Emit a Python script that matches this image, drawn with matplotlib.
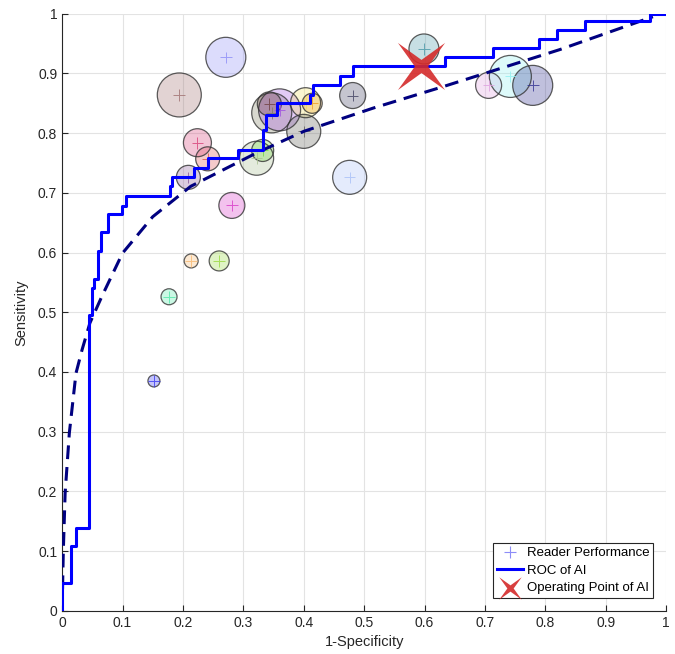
import matplotlib
matplotlib.use("Agg")
import matplotlib.pyplot as plt
from matplotlib.path import Path

plt.rcParams['font.family'] = ['Liberation Sans', 'DejaVu Sans']

# ROC of AI: jump positions (1-specificity) and sensitivity after each jump
roc_fpr = [0.0, 0.0, 0.0144, 0.023, 0.045, 0.049, 0.053, 0.060, 0.0646, 0.0756,
           0.0999, 0.106, 0.178, 0.1815, 0.2185, 0.242, 0.291, 0.332, 0.338,
           0.355, 0.410, 0.416, 0.460, 0.481, 0.634, 0.713, 0.790, 0.820,
           0.865, 0.973, 1.0]
roc_tpr = [0.0, 0.046, 0.108, 0.139, 0.495, 0.540, 0.556, 0.602, 0.634, 0.665,
           0.678, 0.695, 0.711, 0.726, 0.742, 0.758, 0.772, 0.806, 0.831,
           0.850, 0.864, 0.881, 0.895, 0.912, 0.928, 0.943, 0.958, 0.973,
           0.988, 1.0, 1.0]

# fitted (smooth) ROC
fit_fpr = [0.0, 0.002, 0.005, 0.012, 0.023, 0.033, 0.046, 0.066, 0.10, 0.15,
           0.213, 0.322, 0.40, 0.515, 0.631, 0.824, 0.978]
fit_tpr = [0.0, 0.10, 0.197, 0.298, 0.398, 0.437, 0.482, 0.527, 0.599, 0.660,
           0.711, 0.767, 0.803, 0.842, 0.878, 0.940, 0.995]

# readers: operating points and bubble size (radius, px)
reader_fpr = [0.152, 0.177, 0.2136, 0.260, 0.281, 0.209, 0.241, 0.224, 0.194,
              0.271, 0.322, 0.332, 0.347, 0.360, 0.343, 0.403, 0.414, 0.400,
              0.481, 0.476, 0.599, 0.706, 0.742, 0.779]
reader_sens = [0.385, 0.526, 0.586, 0.586, 0.679, 0.726, 0.757, 0.784, 0.864,
               0.927, 0.758, 0.771, 0.834, 0.839, 0.849, 0.851, 0.850, 0.803,
               0.863, 0.726, 0.941, 0.880, 0.895, 0.880]
reader_size = [6, 8, 7, 10, 13, 12, 12, 14, 22, 20, 17, 11, 20, 21, 12, 15, 10,
               17, 13, 17, 15, 13, 21, 20]
reader_colors = ['#3a3af0', '#50e8a8', '#f8b870', '#98d840', '#d838c8', '#8a5a9a',
                 '#e05050', '#d84078', '#a07070', '#8c8cf8', '#a8c090', '#70d840',
                 '#808060', '#a050e0', '#704040', '#f0e060', '#f0a020', '#606058',
                 '#404060', '#a8c0f8', '#4898a8', '#e0a0e0', '#90f0f0', '#303090']

ai_fpr = [0.594]
ai_sens = [0.912]

# thin four-pointed star, tips on the diagonals
star_pts = [(1, 1), (0.28, 0), (1, -1), (0, -0.28), (-1, -1), (-0.28, 0),
            (-1, 1), (0, 0.28), (1, 1)]
star = Path(star_pts, [Path.MOVETO] + [Path.LINETO] * 7 + [Path.CLOSEPOLY])

fig = plt.figure(figsize=(6.75, 6.54), dpi=100)
ax = fig.add_axes([0.092, 0.066, 0.895, 0.913])

ax.set_axisbelow(True)
ax.grid(True, color='#e3e3e3', linewidth=0.8)

dpi = fig.dpi
sizes = [(2 * r * 72 / dpi) ** 2 for r in reader_size]
ax.scatter(reader_fpr, reader_sens, s=sizes, c=reader_colors, alpha=0.3,
           edgecolors='none', zorder=2)
ax.scatter(reader_fpr, reader_sens, s=sizes, facecolors='none',
           edgecolors='#333333', linewidths=0.9, alpha=0.8, zorder=2)
ax.scatter(reader_fpr, reader_sens, marker='+', s=70, c=reader_colors,
           linewidths=0.7, alpha=0.8, zorder=3)

ax.plot(fit_fpr, fit_tpr, color='#000080', linewidth=2.2,
        dashes=(4.5, 2.6), zorder=4)
ax.step(roc_fpr, roc_tpr, where='post', color='#0000ff', linewidth=2.2,
        zorder=5)
ax.scatter(ai_fpr, ai_sens, marker=star, s=1150, color='#d42a2a',
           alpha=0.9, linewidths=0, zorder=6)

ax.set_xlim(0, 1)
ax.set_ylim(0, 1)
ticks = [i / 10 for i in range(11)]
ax.set_xticks(ticks)
ax.set_yticks(ticks)
ax.set_xticklabels(['0', '0.1', '0.2', '0.3', '0.4', '0.5', '0.6', '0.7', '0.8', '0.9', '1'])
ax.set_yticklabels(['0', '0.1', '0.2', '0.3', '0.4', '0.5', '0.6', '0.7', '0.8', '0.9', '1'])
ax.tick_params(direction='in', length=4, width=0.8, colors='#262626',
               labelsize=10)
for side in ['top', 'right']:
    ax.spines[side].set_visible(False)
for side in ['left', 'bottom']:
    ax.spines[side].set_color('#262626')
    ax.spines[side].set_linewidth(0.8)

ax.set_xlabel('1-Specificity', fontsize=10.5, color='#262626', labelpad=4)
ax.set_ylabel('Sensitivity', fontsize=10.5, color='#262626', labelpad=7)

h1 = ax.scatter([], [], marker='+', s=70, color='#8c8cf8', linewidths=0.8)
h2, = ax.plot([], [], color='#0000ff', linewidth=2.2)
h3 = ax.scatter([], [], marker=star, s=260, color='#d42a2a', alpha=0.9,
                linewidths=0)
leg = ax.legend([h1, h2, h3], ['Reader Performance', 'ROC of AI',
                               'Operating Point of AI'],
                loc='lower right', fontsize=9.5, fancybox=False,
                framealpha=1, edgecolor='#262626',
                handlelength=2.0, handletextpad=0.3, borderpad=0.25,
                labelspacing=0.42, borderaxespad=1.0)
leg.get_frame().set_linewidth(0.8)

fig.savefig('out.png', dpi=100)
